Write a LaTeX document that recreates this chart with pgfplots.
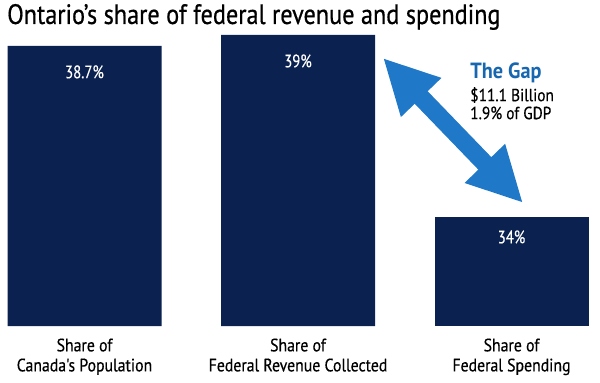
\documentclass[border=0pt]{standalone}
\usepackage{pgfplots}
\pgfplotsset{compat=1.18}
\usepackage{fontspec}
\setmainfont{PT Sans}
\newfontfamily\condtitle[FakeStretch=0.866,FakeBold=0.6]{PT Sans}
\newfontfamily\condlab[FakeStretch=0.877,FakeBold=0.4]{PT Sans}
\newfontfamily\condval[FakeStretch=0.82,FakeBold=0.4]{PT Sans}
\usetikzlibrary{arrows.meta}
\definecolor{navy}{HTML}{0B2150}
\definecolor{gapblue}{HTML}{1F78C8}
\definecolor{gaptext}{HTML}{1667B0}
\begin{document}
\begin{tikzpicture}
\useasboundingbox (0pt,0pt) rectangle (600pt,383pt);
\begin{axis}[at={(0pt,57pt)}, anchor=south west, scale only axis,
  width=600pt, height=326pt,
  xmin=-0.3958, xmax=2.4145, ymin=31.005, ymax=39.961,
  axis line style={draw=none}, ytick=\empty, xtick={0,1,2},
  major tick length=0pt,
  xticklabels={{Share of\\Canada's Population},{Share of\\Federal Revenue Collected},{Share of\\Federal Spending}},
  xticklabel style={align=center, font=\condlab\fontsize{18}{20}\selectfont, yshift=-9pt},
  ybar, bar width=154pt, bar shift=0pt, clip=false,
  nodes near coords, point meta=explicit symbolic,
  nodes near coords style={font=\condval\fontsize{18}{20}\selectfont, color=white, anchor=center},
]
\addplot[fill=navy, draw=none, nodes near coords style={yshift=-26pt}] coordinates {(0,38.7) [38.7\%] (1,39) [39\%]};
\addplot[fill=navy, draw=none, nodes near coords style={yshift=-20pt}] coordinates {(2,34) [34\%]};
\draw[gapblue, line width=18pt, {Triangle[width=52pt,length=55pt]}-{Triangle[width=52pt,length=55pt]}] (axis cs:1.398,38.37) -- (axis cs:2.054,34.385);
\node[anchor=west, text=gaptext, font=\bfseries\fontsize{22}{24}\selectfont, inner sep=0pt] at (axis cs:1.806,37.955) {\addfontfeatures{FakeStretch=0.92}The Gap};
\node[anchor=west, font=\condlab\fontsize{17.5}{19}\selectfont, inner sep=0pt] at (axis cs:1.806,37.35) {\$11.1 Billion};
\node[anchor=west, font=\condlab\fontsize{17.5}{19}\selectfont, inner sep=0pt] at (axis cs:1.806,36.857) {1.9\% of GDP};
\node[anchor=west, font=\condtitle\fontsize{28}{30}\selectfont, inner sep=0pt] at (rel axis cs:0.0117,0.948) {Ontario’s share of federal revenue and spending};
\end{axis}
\end{tikzpicture}
\end{document}
